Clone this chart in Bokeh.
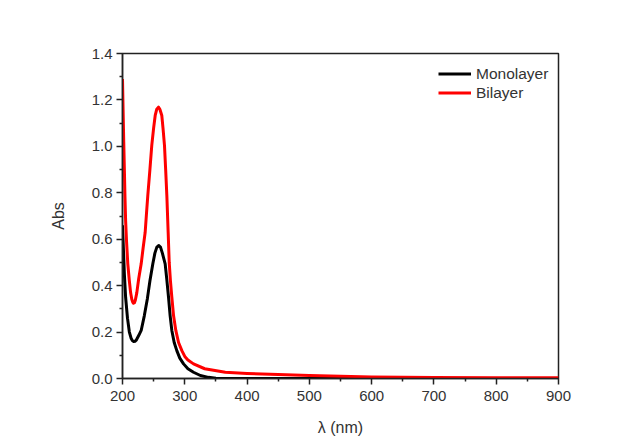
from bokeh.plotting import figure
from bokeh.models import Range1d, FixedTicker, Legend, LegendItem, CustomJSTickFormatter
from bokeh.embed import file_html
from bokeh.resources import INLINE

# Monolayer spectrum (wavelength nm, absorbance)
mono_wl = [200, 201, 203, 205, 208, 211, 214, 216, 218, 220, 222, 226, 230, 235, 240, 244,
           248.7, 252, 255, 258, 261, 264, 268.5, 271, 273.9, 276.5, 279.2, 283,
           287.2, 292, 298, 305, 314, 325, 338, 350, 400, 500, 600, 700, 800, 900]
mono_abs = [0.66, 0.59, 0.45, 0.35, 0.26, 0.20, 0.172, 0.163, 0.159, 0.16, 0.165, 0.185,
            0.207, 0.27, 0.345, 0.42, 0.494, 0.54, 0.565, 0.573, 0.566, 0.54, 0.494, 0.43,
            0.35, 0.27, 0.207, 0.155, 0.12, 0.088, 0.063, 0.042, 0.027, 0.013, 0.005,
            0.001, 0.0, 0.0, 0.0, 0.0, 0.0, 0.0]

# Bilayer spectrum
bi_wl = [200, 201, 202, 203, 204, 205, 206.5, 208.5, 211, 213, 215, 216.5, 217.7, 219,
         220.5, 223, 226, 230, 233, 236.4, 238.5, 240.6, 244, 247, 250, 252.5, 255, 257.8,
         260, 263.1, 265, 267.4, 269.3, 271.2, 273.3, 275, 277, 279.2, 282, 285.6, 290,
         295.3, 300, 305, 314, 332, 365, 400, 450, 500, 550, 600, 650, 700, 800, 900]
bi_abs = [1.29, 1.15, 1.02, 0.90, 0.78, 0.68, 0.59, 0.494, 0.42, 0.37, 0.34, 0.328, 0.324,
          0.326, 0.336, 0.37, 0.43, 0.494, 0.56, 0.63, 0.71, 0.788, 0.90, 1.004, 1.08,
          1.133, 1.16, 1.169, 1.16, 1.133, 1.08, 1.004, 0.90, 0.788, 0.63, 0.50, 0.42,
          0.35, 0.27, 0.207, 0.155, 0.12, 0.095, 0.08, 0.063, 0.042, 0.027, 0.022, 0.017,
          0.013, 0.010, 0.007, 0.005, 0.004, 0.003, 0.003]

x_ticks = [200, 300, 400, 500, 600, 700, 800, 900]
x_minor = [250, 350, 450, 550, 650, 750, 850]
y_ticks = [0.0, 0.2, 0.4, 0.6, 0.8, 1.0, 1.2, 1.4]
y_minor = [0.1, 0.3, 0.5, 0.7, 0.9, 1.1, 1.3]

FONT = "Liberation Sans"

p = figure(width=631, height=441, output_backend="svg", toolbar_location=None,
           x_range=Range1d(200, 900), y_range=Range1d(0, 1.4),
           min_border_left=122, min_border_right=73, min_border_top=53,
           min_border_bottom=63, background_fill_color="white",
           border_fill_color="white")

p.xgrid.visible = False
p.ygrid.visible = False
p.outline_line_color = "#222222"
p.outline_line_width = 1.5

r1 = p.line(mono_wl, mono_abs, line_color="black", line_width=3, line_join="round")
r2 = p.line(bi_wl, bi_abs, line_color="#ff0000", line_width=3, line_join="round")

p.xaxis.ticker = FixedTicker(ticks=x_ticks, minor_ticks=x_minor)
p.yaxis.ticker = FixedTicker(ticks=y_ticks, minor_ticks=y_minor)
p.yaxis.formatter = CustomJSTickFormatter(code="return tick.toFixed(1);")

for ax in (p.xaxis, p.yaxis):
    ax.axis_line_color = "#222222"
    ax.axis_line_width = 1.5
    ax.major_tick_line_color = "#222222"
    ax.major_tick_line_width = 1.5
    ax.minor_tick_line_color = "#222222"
    ax.minor_tick_line_width = 1.5
    ax.major_tick_out = 6
    ax.major_tick_in = 0
    ax.minor_tick_out = 3
    ax.minor_tick_in = 0
    ax.major_label_text_font = FONT
    ax.major_label_text_font_size = "15px"
    ax.major_label_text_color = "#333333"
    ax.axis_label_text_font = FONT
    ax.axis_label_text_font_size = "16px"
    ax.axis_label_text_font_style = "normal"
    ax.axis_label_text_color = "#333333"

p.xaxis.axis_label = "λ (nm)"
p.yaxis.axis_label = "Abs"
p.xaxis.major_label_standoff = 6
p.xaxis.axis_label_standoff = 15
p.yaxis.major_label_standoff = 4
p.yaxis.axis_label_standoff = 22

legend = Legend(items=[LegendItem(label="Monolayer", renderers=[r1]),
                       LegendItem(label="Bilayer", renderers=[r2])],
                location=(316, 276), glyph_width=33, glyph_height=19,
                label_height=19, label_standoff=5, padding=0, spacing=0, margin=0,
                border_line_color=None, background_fill_alpha=0,
                label_text_font=FONT, label_text_font_size="15.5px",
                label_text_color="#333333")
p.add_layout(legend)

open("out.html", "w").write(file_html(p, INLINE))
